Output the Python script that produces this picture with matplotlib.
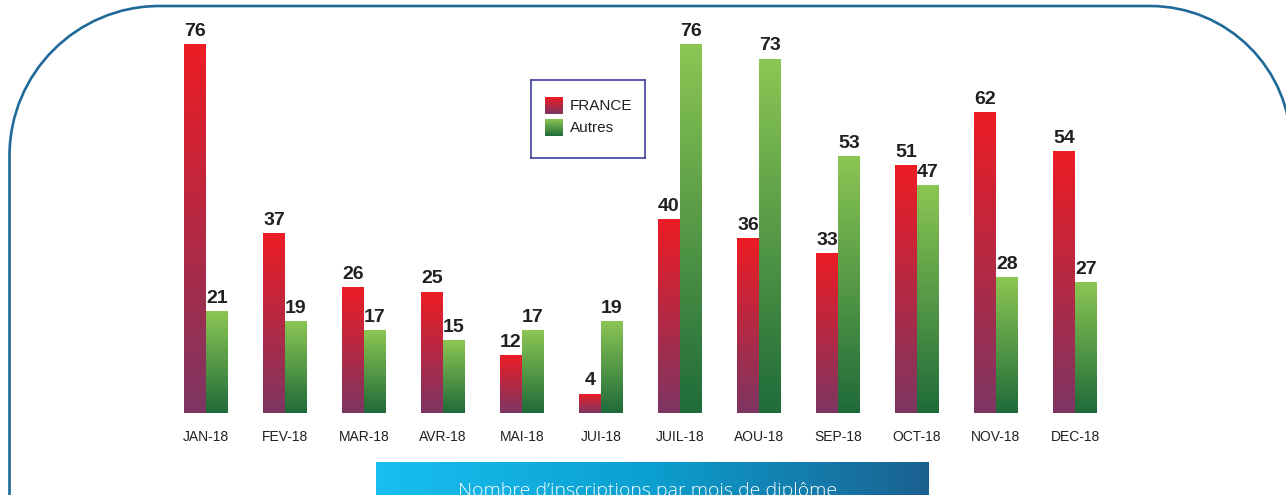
import numpy as np
import matplotlib
matplotlib.use('Agg')
from matplotlib import pyplot as plt
from matplotlib.colors import LinearSegmentedColormap
from matplotlib.path import Path
from matplotlib.patches import PathPatch

# data
months = ['JAN-18', 'FEV-18', 'MAR-18', 'AVR-18', 'MAI-18', 'JUI-18',
          'JUIL-18', 'AOU-18', 'SEP-18', 'OCT-18', 'NOV-18', 'DEC-18']
france = [76, 37, 26, 25, 12, 4, 40, 36, 33, 51, 62, 54]
autres = [21, 19, 17, 15, 17, 19, 76, 73, 53, 47, 28, 27]
series_names = ['FRANCE', 'Autres']
title = "Nombre d\u2019inscriptions par mois de diplôme"

W, H = 1286, 495
red_cmap = LinearSegmentedColormap.from_list('fr', ['#7d3663', '#ed1c24'])
green_cmap = LinearSegmentedColormap.from_list('au', ['#1f6b3a', '#8cc653'])
banner_cmap = LinearSegmentedColormap.from_list('bn', ['#18bff0', '#0b9fcf', '#1b6190'])
grad = np.linspace(0, 1, 256).reshape(-1, 1)

sans = ['Liberation Sans', 'DejaVu Sans']

fig = plt.figure(figsize=(W / 100, H / 100), dpi=100)

def fx(px):
    return px / W

def fy(py):
    return 1 - py / H

# rounded frame
k = 0.5523
rl, rr = 150, 141
xl, xr, yt = 9.5, 1291, 6
verts = [(xl, 520), (xl, yt + rl),
         (xl, yt + rl - k * rl), (xl + rl - k * rl, yt), (xl + rl, yt),
         (xr - rr, yt),
         (xr - rr + k * rr, yt), (xr, yt + rr - k * rr), (xr, yt + rr),
         (xr, 520)]
codes = [Path.MOVETO, Path.LINETO,
         Path.CURVE4, Path.CURVE4, Path.CURVE4,
         Path.LINETO,
         Path.CURVE4, Path.CURVE4, Path.CURVE4,
         Path.LINETO]
frame = Path([(fx(x), fy(y)) for x, y in verts], codes)
fig.patches.append(PathPatch(frame, transform=fig.transFigure, fill=False,
                             edgecolor='#1f6a98', linewidth=1.9))

# main bars
ax = fig.add_axes([fx(166.5), fy(413), fx(948), 369 / H])
x = np.arange(len(months))
bw = 0.268
b1 = ax.bar(x - bw - 0.006, france, bw, align='edge', facecolor='none', edgecolor='none')
b2 = ax.bar(x + 0.006, autres, bw, align='edge', facecolor='none', edgecolor='none')
for bars, cmap in [(b1, red_cmap), (b2, green_cmap)]:
    for b in bars:
        x0, w, h = b.get_x(), b.get_width(), b.get_height()
        im = ax.imshow(grad, extent=[x0, x0 + w, 0, h], origin='lower',
                       aspect='auto', cmap=cmap, zorder=2)
        im.set_clip_path(b)
        ax.annotate(str(int(h)), (x0 + w / 2, h), xytext=(0, 3),
                    textcoords='offset points', ha='center', va='bottom',
                    fontsize=14, fontweight='bold', color='#231f20',
                    family=sans, annotation_clip=False)

ax.set_xlim(-0.5, len(months) - 0.5)
ax.set_ylim(0, 76)
ax.set_xticks(x)
ax.set_xticklabels(months, family=sans, fontsize=10, color='#231f20')
ax.tick_params(axis='x', length=0, pad=12)
ax.set_yticks([])
for s in ax.spines.values():
    s.set_visible(False)
ax.patch.set_alpha(0)

# legend box
lg = fig.add_axes([fx(531), fy(158), fx(114), 78 / H])
for s in lg.spines.values():
    s.set_color('#4040a0')
    s.set_linewidth(1.2)
lg.set_xticks([])
lg.set_yticks([])
for i, (name, cmap) in enumerate(zip(series_names, [red_cmap, green_cmap])):
    y0 = 17 + i * 22
    lg.imshow(grad, extent=[14, 32, y0 + 17, y0], origin='lower',
              aspect='auto', cmap=cmap)
    lg.text(39, y0 + 9, name, va='center', ha='left', fontsize=11,
            family=sans, color='#231f20')
lg.set_xlim(0, 114)
lg.set_ylim(78, 0)

# banner
bn = fig.add_axes([fx(376), 0, fx(553), (H - 462) / H])
bn.imshow(grad.T, extent=[0, 1, 0, 1], aspect='auto', cmap=banner_cmap)
bn.axis('off')
fig.text(fx(648), fy(482), title, ha='center', va='top', color='white',
         fontsize=14, family=['Open Sans', 'DejaVu Sans'], fontweight='light')

fig.savefig('out.png', dpi=100)
